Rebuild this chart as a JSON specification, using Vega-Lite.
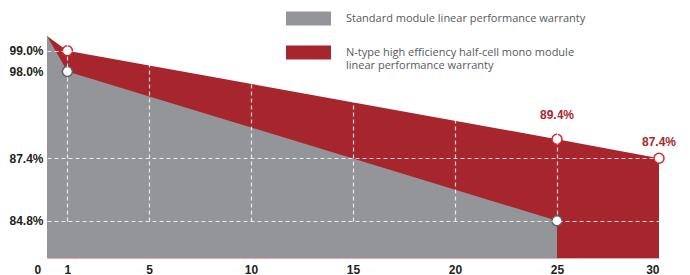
{
  "$schema": "https://vega.github.io/schema/vega-lite/v6.json",
  "width": 612,
  "height": 258,
  "autosize": {"type": "none"},
  "padding": {"left": 47, "top": 0, "right": 31, "bottom": 17},
  "background": "white",
  "config": {
    "view": {"stroke": null},
    "axis": {"labelFont": "Liberation Sans", "labelFontSize": 12, "labelFontWeight": "bold", "labelColor": "#231f20"},
    "legend": {"zindex": 2}
  },
  "datasets": {
    "curves": [
      {"year": 0, "value": 100, "series": "N-type high efficiency half-cell mono module linear performance warranty"},
      {"year": 1, "value": 99, "series": "N-type high efficiency half-cell mono module linear performance warranty", "label": "99.0%"},
      {"year": 25, "value": 89.4, "series": "N-type high efficiency half-cell mono module linear performance warranty", "label": "89.4%"},
      {"year": 30, "value": 87.4, "series": "N-type high efficiency half-cell mono module linear performance warranty", "label": "87.4%"},
      {"year": 0, "value": 100, "series": "Standard module linear performance warranty"},
      {"year": 1, "value": 98, "series": "Standard module linear performance warranty", "label": "98.0%"},
      {"year": 25, "value": 84.8, "series": "Standard module linear performance warranty", "label": "84.8%"}
    ]
  },
  "data": {"name": "curves"},
  "encoding": {
    "x": {"field": "year", "type": "quantitative", "scale": {"domain": [0, 30], "nice": false}},
    "y": {"field": "value", "type": "quantitative", "scale": {"domain": [80, 84.8, 87.4, 89.4, 98, 99, 100], "range": [258, 220.7, 158.3, 139.2, 71.5, 50.7, 36], "nice": false, "zero": false}}
  },
  "layer": [
    {
      "transform": [{"filter": "datum.series != 'Standard module linear performance warranty'"}],
      "mark": {"type": "area", "opacity": 1},
      "encoding": {
        "x": {"field": "year", "type": "quantitative", "axis": {"values": [0, 1, 5, 10, 15, 20, 25, 30], "title": null, "zindex": 1, "ticks": false, "tickSize": 0, "labelPadding": 6, "domain": true, "domainColor": "#e7a9ad", "domainWidth": 1, "grid": true, "gridColor": "white", "gridDash": [4, 3], "gridWidth": 1.2, "gridOpacity": {"condition": {"test": "datum.value == 0 || datum.value == 30", "value": 0}, "value": 0.8}, "labelOffset": {"condition": {"test": "datum.value == 0", "value": -13}, "value": 0}}},
        "y": {"field": "value", "type": "quantitative", "axis": {"values": [84.8, 87.4, 98, 99], "title": null, "zindex": 1, "ticks": false, "tickSize": 0, "domain": false, "labelPadding": 4, "labelExpr": "format(datum.value, '.1f') + '%'", "grid": true, "gridColor": "white", "gridDash": [4, 3], "gridWidth": 1.2, "gridOpacity": {"condition": {"test": "datum.value == 98", "value": 0}, "value": 0.8}}},
        "y2": {"datum": 80},
        "color": {
          "field": "series", "type": "nominal",
          "scale": {"domain": ["Standard module linear performance warranty", "N-type high efficiency half-cell mono module linear performance warranty"], "range": ["#939598", "#a7262e"]},
          "legend": {
            "orient": "none", "legendX": 239, "legendY": -4, "title": null, "padding": 0, "rowPadding": 4,
            "symbolType": "M-1,-0.311L1,-0.311L1,0.311L-1,0.311Z", "symbolSize": 2025, "symbolStrokeWidth": 0,
            "labelFont": "Open Sans", "labelFontSize": 11, "labelColor": "#58595b", "labelOffset": 15, "labelLimit": 400,
            "labelExpr": "datum.label == 'Standard module linear performance warranty' ? datum.label : ['N-type high efficiency half-cell mono module', 'linear performance warranty']"
          }
        }
      }
    },
    {
      "transform": [{"filter": "datum.series == 'Standard module linear performance warranty'"}],
      "mark": {"type": "area", "opacity": 1},
      "encoding": {
        "y2": {"datum": 80},
        "color": {"field": "series", "type": "nominal"}
      }
    },
    {
      "transform": [{"filter": "datum.year > 0"}],
      "mark": {"type": "point", "filled": true, "fill": "white", "opacity": 1, "size": 100, "strokeWidth": 1.5},
      "encoding": {
        "stroke": {"field": "series", "type": "nominal", "legend": null, "scale": {"domain": ["Standard module linear performance warranty", "N-type high efficiency half-cell mono module linear performance warranty"], "range": ["#5f6063", "#d0282f"]}}
      }
    },
    {
      "transform": [{"filter": "datum.year == 25 && datum.value > 85"}],
      "mark": {"type": "text", "dy": -24, "font": "Liberation Sans", "fontSize": 12, "fontWeight": "bold", "color": "#a7262e"},
      "encoding": {"text": {"field": "label"}}
    },
    {
      "transform": [{"filter": "datum.year == 30"}],
      "mark": {"type": "text", "dy": -16, "font": "Liberation Sans", "fontSize": 12, "fontWeight": "bold", "color": "#a7262e"},
      "encoding": {"text": {"field": "label"}}
    }
  ]
}
